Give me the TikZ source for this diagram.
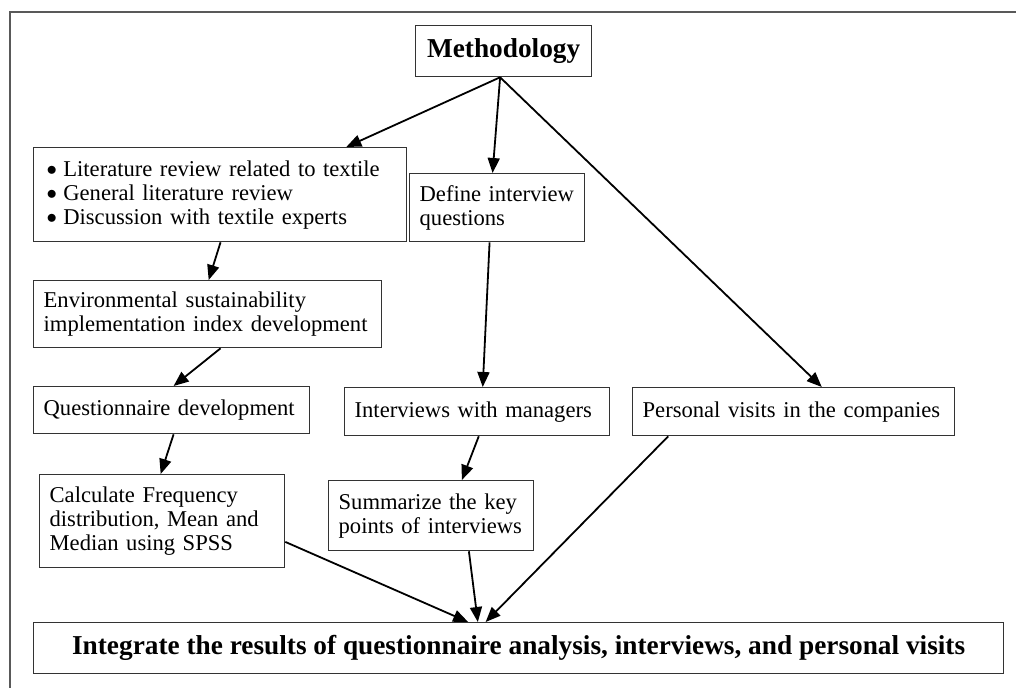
\documentclass[tikz,border=0pt]{standalone}
\usepackage{fontspec}
\setmainfont{Liberation Serif}
\usetikzlibrary{arrows.meta,calc}
\newcommand{\mybul}{\raisebox{0.5pt}{$\bullet$}\hspace{0.28em}}
\begin{document}
\begin{tikzpicture}[x=1pt,y=-1pt,
  box/.style={draw=black!80,line width=1.3pt,rectangle,anchor=north west,
    inner xsep=10pt,inner ysep=0pt,align=left,
    font=\fontsize{22.6}{24}\selectfont},
  bbox/.style={draw=black!80,line width=1.3pt,rectangle,anchor=north west,
    inner sep=0pt,align=center,font=\fontsize{27.3}{30}\selectfont\bfseries},
  arr/.style={line width=1.8pt,-{Triangle[length=15pt,width=12pt]}}]
\useasboundingbox (0,0) rectangle (1016,688);
\draw[line width=1.2pt,black!65] (1016,12) -- (10,12) -- (10,688);

\node[bbox,minimum width=176pt,minimum height=51pt] (meth) at (415,25) {Methodology};
\node[box,minimum width=367pt,minimum height=94pt,text width=347pt,inner xsep=13pt] (lit) at (33,147)
  {\mybul Literature review related to textile\\
   \mybul General literature review\\
   \mybul Discussion with textile experts};
\node[box,minimum width=175pt,minimum height=68pt,text width=155pt] (def) at (409,173)
  {Define interview\\questions\\[2pt]};
\node[box,minimum width=348pt,minimum height=67pt,text width=328pt] (env) at (33,280)
  {Environmental sustainability\\implementation index development};
\node[box,minimum width=276pt,minimum height=47pt,text width=256pt] (q) at (33,386)
  {Questionnaire development};
\node[box,minimum width=265pt,minimum height=48pt,text width=245pt] (int) at (344,387)
  {Interviews with managers};
\node[box,minimum width=322pt,minimum height=48pt,text width=302pt] (pers) at (632,387)
  {Personal visits in the companies};
\node[box,minimum width=245pt,minimum height=93pt,text width=225pt] (calc) at (39,474)
  {Calculate Frequency\\distribution, Mean and\\Median using SPSS};
\node[box,minimum width=205pt,minimum height=70pt,text width=185pt] (sum) at (328,480)
  {Summarize the key\\points of interviews};
\node[bbox,minimum width=970pt,minimum height=51pt] (integ) at (33,622)
  {Integrate the results of questionnaire analysis, interviews, and personal visits};

\coordinate (ms) at ($(meth.south west)!0.48!(meth.south east)$);
\draw[arr] (ms) -- ($(lit.north west)!0.837!(lit.north east)$);
\draw[arr] (ms) -- ($(def.north west)!0.474!(def.north east)$);
\draw[arr] (ms) -- ($(pers.north west)!0.587!(pers.north east)$);
\draw[arr] ($(lit.south west)!0.501!(lit.south east)$) -- ($(env.north west)!0.503!(env.north east)$);
\draw[arr] ($(env.south west)!0.537!(env.south east)$) -- ($(q.north west)!0.507!(q.north east)$);
\draw[arr] ($(q.south west)!0.507!(q.south east)$) -- ($(calc.north west)!0.494!(calc.north east)$);
\draw[arr] ($(def.south west)!0.457!(def.south east)$) -- ($(int.north west)!0.521!(int.north east)$);
\draw[arr] ($(int.south west)!0.506!(int.south east)$) -- ($(sum.north west)!0.649!(sum.north east)$);
\draw[arr] ($(pers.south west)!0.112!(pers.south east)$) -- ($(integ.north west)!0.466!(integ.north east)$);
\draw[arr] ($(calc.north east)!0.72!(calc.south east)$) -- ($(integ.north west)!0.448!(integ.north east)$);
\draw[arr] ($(sum.south west)!0.683!(sum.south east)$) -- ($(integ.north west)!0.458!(integ.north east)$);
\end{tikzpicture}
\end{document}
